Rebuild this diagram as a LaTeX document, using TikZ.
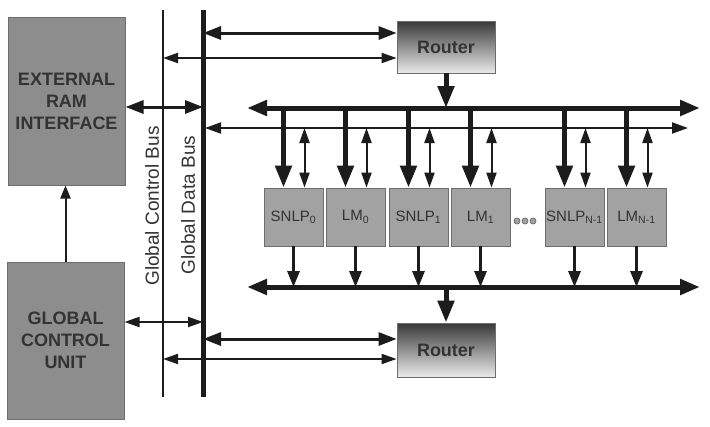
\documentclass[tikz,border=0pt]{standalone}
\usepackage{fontspec}
\setmainfont{Liberation Sans}
\usetikzlibrary{arrows.meta}

\definecolor{boxgray}{HTML}{8D8D8D}
\definecolor{modgray}{HTML}{A2A2A2}
\definecolor{edgegray}{HTML}{6E6E6E}
\definecolor{txtgray}{HTML}{333333}
\definecolor{inkgray}{HTML}{1C1C1C}

\tikzset{
    bigbox/.style={draw=edgegray, fill=boxgray, line width=1pt, inner sep=0pt,
        minimum width=117pt, align=center, text=txtgray,
        font=\bfseries\fontsize{18}{22}\selectfont},
    modbox/.style={draw=edgegray, fill=modgray, line width=0.8pt, inner sep=0pt,
        minimum width=59pt, minimum height=58pt, text=txtgray,
        font=\fontsize{15}{17}\selectfont},
    routerbox/.style={draw=edgegray, line width=0.8pt, top color=black!78,
        bottom color=black!8, inner sep=0pt, minimum width=98pt, text=txtgray,
        font=\bfseries\fontsize{18}{20}\selectfont},
    buslabel/.style={rotate=90, text=txtgray, font=\fontsize{19}{21}\selectfont},
    busline/.style={draw=inkgray, line width=5pt,
        {Triangle[length=20pt,width=15pt]}-{Triangle[length=20pt,width=15pt]}},
    thinbus/.style={draw=inkgray, line width=2pt,
        {Triangle[length=16pt,width=11pt]}-{Triangle[length=16pt,width=11pt]}},
    fatlink/.style={draw=inkgray, line width=3pt,
        {Triangle[length=18pt,width=13pt]}-{Triangle[length=18pt,width=13pt]}},
    thinlink/.style={draw=inkgray, line width=2pt,
        {Triangle[length=15pt,width=10pt]}-{Triangle[length=15pt,width=10pt]}},
    fatdown/.style={draw=inkgray, line width=5pt, -{Triangle[length=22pt,width=16pt]}},
    middown/.style={draw=inkgray, line width=3pt, -{Triangle[length=16pt,width=12pt]}},
    thinup/.style={draw=inkgray, line width=2pt, -{Triangle[length=13pt,width=10pt]}},
}

\begin{document}
\begin{tikzpicture}[x=1pt, y=-1pt]
    \useasboundingbox[fill=white] (0,0) rectangle (710,426);

    % blocs de gauche
    \node[bigbox, minimum height=168pt] (ram) at (66.5,101) {EXTERNAL\\RAM\\INTERFACE};
    \node[bigbox, minimum height=157pt] (gcu) at (65.5,340.5) {GLOBAL\\CONTROL\\UNIT};

    % routeurs
    \node[routerbox, minimum height=52pt] (rtop) at (446,47) {Router};
    \node[routerbox, minimum height=54pt] (rbot) at (446,350) {Router};

    % bus globaux (verticaux)
    \coordinate (ctop) at (163,10);
    \coordinate (cbot) at (163,397);
    \coordinate (dtop) at (203,10);
    \coordinate (dbot) at (203,397);
    \draw[inkgray, line width=2pt] (ctop) -- (cbot);
    \draw[inkgray, line width=5pt] (dtop) -- (dbot);
    \node[buslabel] (clab) at (152,206) {Global Control Bus};
    \node[buslabel] (dlab) at (188,205) {Global Data Bus};

    % bus horizontaux
    \coordinate (tl) at (247,108);
    \coordinate (tr) at (700,108);
    \coordinate (ml) at (205,128);
    \coordinate (mr) at (688,128);
    \coordinate (bl) at (247,287);
    \coordinate (br) at (700,287);
    \draw[busline] (tl) -- (tr);
    \draw[thinbus] (ml) -- (mr);
    \draw[busline] (bl) -- (br);

    % modules SNLP / LM
    \node[modbox] (m0) at (293.5,217) {SNLP\textsubscript{0}};
    \node[modbox] (m1) at (355.5,217) {LM\textsubscript{0}};
    \node[modbox] (m2) at (418.5,217) {SNLP\textsubscript{1}};
    \node[modbox] (m3) at (480.5,217) {LM\textsubscript{1}};
    \node[modbox] (m4) at (574.5,217) {SNLP\textsubscript{N-1}};
    \node[modbox] (m5) at (636.5,217) {LM\textsubscript{N-1}};

    % points de suspension
    \foreach \k [count=\j] in {517,525,533} {
        \node[circle, draw=edgegray, fill=modgray, line width=0.8pt,
            inner sep=0pt, minimum size=6pt] (dot\j) at (\k,221) {};
    }

    % liaisons bus -> modules -> bus
    \foreach \i in {0,...,5} {
        \draw[fatdown] ([xshift=-10pt]m\i.north |- tl) -- ([xshift=-10pt]m\i.north);
        \draw[thinlink] ([xshift=11pt]m\i.north |- ml) -- ([xshift=11pt]m\i.north);
        \draw[middown] (m\i.south) -- (m\i.south |- bl);
    }

    % routeurs <-> bus
    \draw[fatdown] (rtop.south) -- (rtop.south |- tl);
    \draw[fatdown] (rbot.north |- bl) -- (rbot.north);
    \draw[fatlink] ([yshift=14pt]rtop.west -| dtop) -- ([yshift=14pt]rtop.west);
    \draw[thinlink] ([yshift=-11pt]rtop.west -| ctop) -- ([yshift=-11pt]rtop.west);
    \draw[fatlink] ([yshift=11pt]rbot.west -| dtop) -- ([yshift=11pt]rbot.west);
    \draw[thinlink] ([yshift=-9pt]rbot.west -| ctop) -- ([yshift=-9pt]rbot.west);

    % blocs de gauche <-> bus
    \draw[fatlink] ([yshift=-6pt]ram.east) -- ([yshift=-6pt]ram.east -| dtop);
    \draw[thinlink] ([yshift=18.5pt]gcu.east) -- ([yshift=18.5pt]gcu.east -| dtop);
    \draw[thinup] (gcu.north) -- (gcu.north |- ram.south);
\end{tikzpicture}
\end{document}
